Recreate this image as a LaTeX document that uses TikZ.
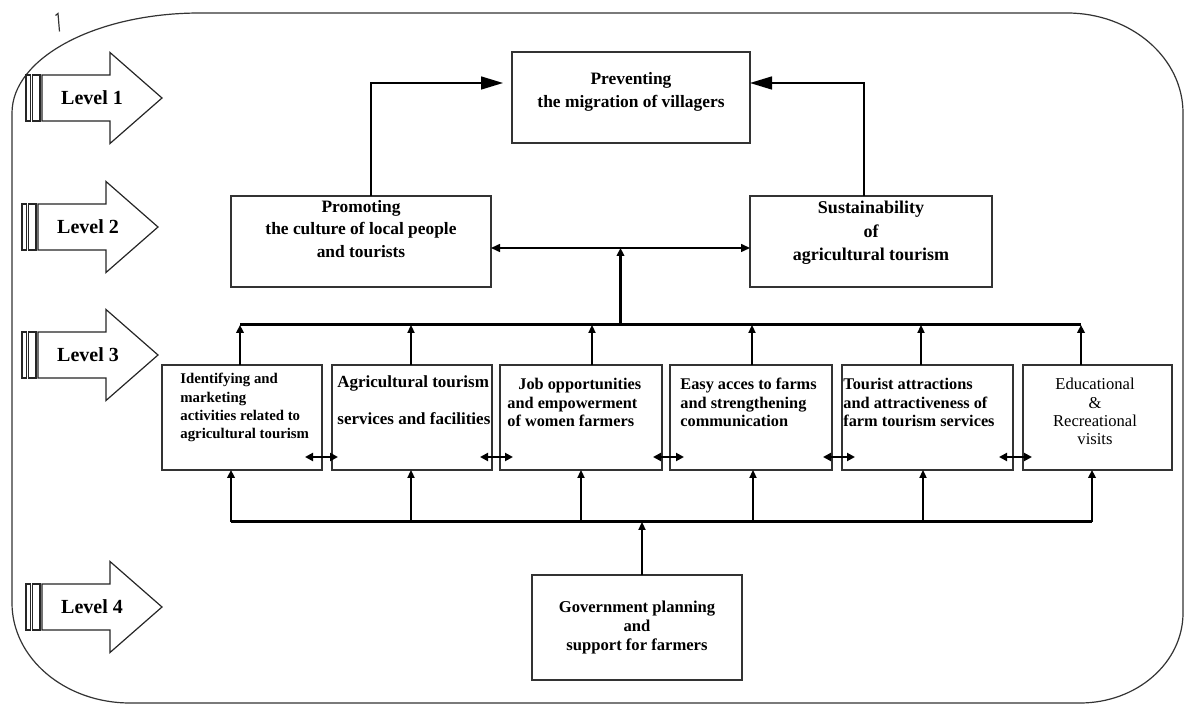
\documentclass[tikz,border=0pt]{standalone}
\usepackage{fontspec}
\setmainfont{Liberation Serif}
\usetikzlibrary{arrows.meta,calc}
\newcommand\lvlarrow[4]{%
  \draw[lvlline] ({#2},{#3-23}) rectangle ({#2+4.5},{#3+23});
  \draw[lvlline] ({#2+6.5},{#3-23}) rectangle ({#2+14},{#3+23});
  \draw[lvlline] ({#2+16},{#3-23}) -- ({#2+84},{#3-23}) -- ({#2+84},{#3-45.5}) -- ({#2+136},{#3}) -- ({#2+84},{#3+45.5}) -- ({#2+84},{#3+23}) -- ({#2+16},{#3+23}) -- cycle;
  \node[lvltext] (#1) at ({#2+66},{#3}) {#4};
}
\begin{document}
\begin{tikzpicture}[x=0.5pt,y=-0.5pt,
  bx/.style={draw=black!80, line width=0.75pt, inner sep=0pt, outer sep=0pt},
  lvlline/.style={draw=black!85, line width=0.6pt, fill=white},
  lvltext/.style={font=\fontsize{10}{12}\selectfont\bfseries, inner sep=0pt},
  ttop/.style={font=\fontsize{8.7}{11.5}\selectfont\bfseries, align=center, inner sep=0pt, anchor=north},
  tmid/.style={font=\fontsize{8.15}{9.25}\selectfont\bfseries, align=left, inner sep=0pt, anchor=north west},
  busline/.style={line width=1.5pt},
  uparr/.style={line width=0.75pt, -{Triangle[length=4pt,width=3.6pt]}},
  upthick/.style={line width=1.4pt, -{Triangle[length=4pt,width=3.8pt]}},
  dblarr/.style={line width=1.2pt, {Triangle[length=4pt,width=4pt]}-{Triangle[length=4pt,width=4pt]}},
  bigarr/.style={line width=0.75pt, -{Triangle[length=11pt,width=6.5pt]}},
  biarr/.style={line width=0.75pt, {Triangle[length=4.5pt,width=4pt]}-{Triangle[length=4.5pt,width=4pt]}}
]
\fill[white] (0,0) rectangle (1184,705);
\useasboundingbox (0,0) rectangle (1184,705);

% outer frame
\draw[line width=0.6pt, draw=black!80] (200,13) -- (1067,13)
  arc[start angle=90,end angle=0,x radius=58pt,y radius=50pt] -- (1183,613)
  arc[start angle=0,end angle=-90,x radius=51.5pt,y radius=45pt] -- (130,703)
  arc[start angle=270,end angle=180,x radius=59pt,y radius=50pt] -- (12,113)
  arc[start angle=180,end angle=90,x radius=94pt,y radius=50pt] -- cycle;
\draw[line width=0.6pt, draw=black!80] (55.5,15.5) -- (58,13.5) -- (59.5,31.5);

% level arrows
\lvlarrow{L1}{26}{98}{Level 1}
\lvlarrow{L2}{22}{227}{Level 2}
\lvlarrow{L3}{22}{355}{Level 3}
\lvlarrow{L4}{26}{607}{Level 4}

% boxes
\node[bx, minimum width=119pt, minimum height=45.5pt] (P) at (631,97.5) {};
\node[bx, minimum width=130pt, minimum height=45.5pt] (Pr) at (361,241.5) {};
\node[bx, minimum width=121pt, minimum height=45.5pt] (S) at (871,241.5) {};
\node[bx, minimum width=80pt, minimum height=52.5pt] (b1) at (242,417.5) {};
\node[bx, minimum width=80pt, minimum height=52.5pt] (b2) at (412,417.5) {};
\node[bx, minimum width=81pt, minimum height=52.5pt] (b3) at (581,417.5) {};
\node[bx, minimum width=81pt, minimum height=52.5pt] (b4) at (751,417.5) {};
\node[bx, minimum width=85.5pt, minimum height=52.5pt] (b5) at (927.5,417.5) {};
\node[bx, minimum width=74.5pt, minimum height=52.5pt] (b6) at (1097.5,417.5) {};
\node[bx, minimum width=105pt, minimum height=52.5pt, align=center,
  font=\fontsize{8.3}{9.5}\selectfont\bfseries] (G) at (637,627.5)
  {Government planning\\and\\ support for farmers};

% texts
\node[ttop] (Pt) at ($(P.north)+(0,20)$) {Preventing\\the migration of villagers};
\node[ttop, font=\fontsize{8.7}{11.25}\selectfont\bfseries] (Prt) at ($(Pr.north)+(0,4)$) {Promoting\\the culture of local people\\and tourists};
\node[ttop, font=\fontsize{9}{11.75}\selectfont\bfseries] (St) at ($(S.north)+(0,5)$) {Sustainability\\of\\agricultural tourism};
\node[tmid, font=\fontsize{7.4}{9.15}\selectfont\bfseries] (t1) at ($(b1.north west)+(18,8)$) {Identifying and\\marketing\\activities related to\\agricultural tourism};
\node[tmid, font=\fontsize{8.5}{9.25}\selectfont\bfseries] (t2) at ($(b2.north west)+(5,10)$) {Agricultural tourism\\[9.25pt]services and facilities};
\node[tmid] (t3) at ($(b3.north west)+(7,13)$) {\hspace*{5.5pt}Job opportunities\\and empowerment\\of women farmers};
\node[tmid] (t4) at ($(b4.north west)+(10,13)$) {Easy acces to farms\\and strengthening\\communication};
\node[tmid] (t5) at ($(b5.north west)+(1,13)$) {Tourist attractions\\and attractiveness of\\farm tourism services};
\node[ttop, font=\fontsize{8.3}{9.15}\selectfont] (t6) at ($(b6.north)+(-2.5,13)$) {Educational\\\&\\Recreational\\visits};

% level 1 connectors
\coordinate (pr1) at ($(Pr.north)+(10,0)$);
\coordinate (pin1) at ($(P.west)+(0,-14.5)$);
\draw[bigarr, shorten >=4.5pt] (pr1) |- (pin1);
\coordinate (s1) at ($(S.north)+(-7,0)$);
\coordinate (pin2) at ($(P.east)+(0,-14.5)$);
\draw[bigarr] (s1) |- (pin2);

% level 2 link
\draw[biarr] ($(Pr.east)+(0,6.5)$) -- ($(S.west)+(0,6.5)$);
\coordinate (mid) at ($(Pr.east)!0.5!(S.west)+(0,6.5)$);

% top bus
\coordinate (tby) at (0,325);
\coordinate (a1) at ($(b1.north)+(-2,0)$);
\coordinate (a2) at ($(b2.north)+(-1,0)$);
\coordinate (a3) at ($(b3.north)+(11,0)$);
\coordinate (a4) at ($(b4.north)+(1,0)$);
\coordinate (a5) at ($(b5.north)+(-6.5,0)$);
\coordinate (a6) at ($(b6.north)+(-16.5,0)$);
\draw[busline] (a1 |- tby) -- (a6 |- tby);
\draw[upthick] (mid |- tby) -- (mid);
\draw[upthick] (a1) -- (a1 |- tby);
\draw[uparr] (a2) -- (a2 |- tby);
\draw[uparr] (a3) -- (a3 |- tby);
\draw[uparr] (a4) -- (a4 |- tby);
\draw[uparr] (a5) -- (a5 |- tby);
\draw[upthick] (a6) -- (a6 |- tby);

% bottom bus
\coordinate (bby) at (0,522);
\coordinate (c1) at ($(b1.south)+(-11,0)$);
\coordinate (c2) at ($(b2.south)+(-1,0)$);
\coordinate (c3) at ($(b3.south)+(0,0)$);
\coordinate (c4) at ($(b4.south)+(2,0)$);
\coordinate (c5) at ($(b5.south)+(-4.5,0)$);
\coordinate (c6) at ($(b6.south)+(-5.5,0)$);
\draw[busline] (c1 |- bby) -- (c6 |- bby);
\draw[upthick] (c1 |- bby) -- (c1);
\draw[uparr] (c2 |- bby) -- (c2);
\draw[uparr] (c3 |- bby) -- (c3);
\draw[uparr] (c4 |- bby) -- (c4);
\draw[uparr] (c5 |- bby) -- (c5);
\draw[upthick] (c6 |- bby) -- (c6);
\coordinate (g1) at ($(G.north)+(5,0)$);
\draw[uparr] (g1) -- (g1 |- bby);

% links between level 3 boxes
\draw[dblarr] ($(b1.east)+(-17,39.5)$) -- ($(b2.west)+(6,39.5)$);
\draw[dblarr] ($(b2.east)+(-12,39.5)$) -- ($(b3.west)+(13,39.5)$);
\draw[dblarr] ($(b3.east)+(-9,39.5)$) -- ($(b4.west)+(14,39.5)$);
\draw[dblarr] ($(b4.east)+(-9,39.5)$) -- ($(b5.west)+(13,39.5)$);
\draw[dblarr] ($(b5.east)+(-14,39.5)$) -- ($(b6.west)+(9,39.5)$);
\end{tikzpicture}
\end{document}
